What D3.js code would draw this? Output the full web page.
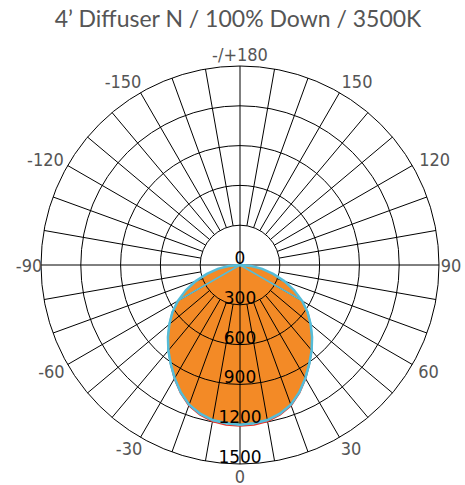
<!DOCTYPE html>
<html>
<head>
<meta charset="utf-8">
<script src="https://cdn.jsdelivr.net/npm/d3@7"></script>
<style>
  body { margin: 0; background: #fff; }
  .grid { stroke: #000; stroke-width: 1; fill: none; }
  .ring-label { font-family: "DejaVu Sans", sans-serif; font-size: 17px; fill: #000; }
  .angle-label { font-family: "Liberation Sans Narrow", "DejaVu Sans Condensed", sans-serif; font-size: 18px; fill: #555; }
  .title { font-family: Lato, "Open Sans", sans-serif; font-size: 23px; fill: #555; }
</style>
</head>
<body>
<div id="vis"></div>
<script>
const WIDTH = 465;
const HEIGHT = 485;
const CENTER = { x: 240, y: 265 };
const OUTER_R = 199;

const TITLE = "4\u2019 Diffuser N / 100% Down / 3500K";

// candela rings and angle labels
const RING_VALUES = [300, 600, 900, 1200, 1500];
const RING_LABELS = [0, 300, 600, 900, 1200, 1500];
const ANGLE_LABELS = [180, 150, 120, 90, 60, 30, 0, -30, -60, -90, -120, -150];

// gamma angles (0 = straight down)
const ANGLES = [-90, -85, -80, -75, -70, -65, -60, -55, -50, -45, -40, -35, -30, -25, -20, -15, -10, -5,
  0, 5, 10, 15, 20, 25, 30, 35, 40, 45, 50, 55, 60, 65, 70, 75, 80, 85, 90];

// C0 plane (orange)
const C0_VALUES = [0, 85, 170, 258, 355, 450, 540, 622, 695, 768, 840, 910, 985, 1058, 1120, 1160, 1187, 1197,
  1205, 1197, 1187, 1160, 1120, 1058, 985, 910, 840, 768, 695, 622, 540, 450, 355, 258, 170, 85, 0];

// C90 plane (cyan), coarse at the ends
const C90_ANGLES = [-90, -60, -55, -50, -45, -40, -35, -30, -25, -20, -15, -10, -5,
  0, 5, 10, 15, 20, 25, 30, 35, 40, 45, 50, 55, 60, 90];
const C90_VALUES = [0, 545, 625, 697, 770, 842, 912, 986, 1058, 1121, 1162, 1188, 1198,
  1204, 1198, 1188, 1162, 1121, 1058, 986, 912, 842, 770, 697, 625, 545, 0];

// C45 plane (red), barely visible under the others
const C45_ANGLES = [-45, -40, -35, -30, -25, -20, -15, -10, -5, 0, 5, 10, 15, 20, 25, 30, 35, 40, 45];
const C45_VALUES = [766, 840, 912, 990, 1064, 1128, 1170, 1198, 1210,
  1214, 1210, 1198, 1170, 1128, 1064, 990, 912, 840, 766];

const svg = d3.select("#vis")
  .append("svg")
  .attr("width", WIDTH)
  .attr("height", HEIGHT);

const R_SCALE = d3.scaleLinear().domain([0, 1500]).range([0, OUTER_R]);
const toRad = (a) => a * Math.PI / 180;

const g = svg.append("g")
  .attr("transform", "translate(" + CENTER.x + "," + CENTER.y + ")");

const radial = d3.lineRadial()
  .angle((d) => Math.PI - toRad(d.a))
  .radius((d) => R_SCALE(d.v));

const c0 = ANGLES.map((a, i) => ({ a: a, v: C0_VALUES[i] }));
const c90 = C90_ANGLES.map((a, i) => ({ a: a, v: C90_VALUES[i] }));
const c45 = C45_ANGLES.map((a, i) => ({ a: a, v: C45_VALUES[i] }));

// filled distribution goes under the grid
g.append("path")
  .datum(c0)
  .attr("d", radial)
  .attr("fill", "#f38a26")
  .attr("stroke", "none");

// grid: rings
g.selectAll(".ring")
  .data(RING_VALUES)
  .enter()
  .append("circle")
  .attr("class", "grid")
  .attr("r", (d) => R_SCALE(d));

// grid: spokes every 10 degrees, from first ring out
const spokes = d3.range(-170, 190, 10);
g.selectAll(".spoke")
  .data(spokes)
  .enter()
  .append("line")
  .attr("class", "grid")
  .attr("x1", (d) => (d % 90 === 0 ? 0 : R_SCALE(300)) * Math.sin(toRad(d)))
  .attr("y1", (d) => (d % 90 === 0 ? 0 : R_SCALE(300)) * Math.cos(toRad(d)))
  .attr("x2", (d) => R_SCALE(1500) * Math.sin(toRad(d)))
  .attr("y2", (d) => R_SCALE(1500) * Math.cos(toRad(d)));

// plane outlines
g.append("path")
  .datum(c45)
  .attr("d", radial)
  .attr("fill", "none")
  .attr("stroke", "#e8372c")
  .attr("stroke-width", 1.5);

g.append("path")
  .datum(c0)
  .attr("d", radial)
  .attr("fill", "none")
  .attr("stroke", "#55bcd8")
  .attr("stroke-width", 2.5);

g.append("path")
  .datum(c90)
  .attr("d", radial)
  .attr("fill", "none")
  .attr("stroke", "#55bcd8")
  .attr("stroke-width", 1.5);

// ring labels sit on the ring line along the 0 axis
g.selectAll(".ring-label")
  .data(RING_LABELS)
  .enter()
  .append("text")
  .attr("class", "ring-label")
  .attr("text-anchor", "middle")
  .attr("x", 0)
  .attr("y", (d) => R_SCALE(d) - 1)
  .text((d) => d);

// angle labels round the outside
function labelPos(a) {
  const r = a % 90 === 0 ? 211 : 212;
  let x = r * Math.sin(toRad(a));
  const y = r * Math.cos(toRad(a));
  if (a % 90 !== 0) {
    x += Math.sign(x) * (Math.abs(a) > 90 ? 11 : 5);
  }
  return [x, y];
}

g.selectAll(".angle-label")
  .data(ANGLE_LABELS)
  .enter()
  .append("text")
  .attr("class", "angle-label")
  .attr("text-anchor", "middle")
  .attr("dominant-baseline", "central")
  .attr("x", (d) => labelPos(d)[0])
  .attr("y", (d) => labelPos(d)[1])
  .text((d) => (d === 180 ? "-/+180" : d));

svg.append("text")
  .attr("class", "title")
  .attr("x", 238)
  .attr("y", 27)
  .attr("text-anchor", "middle")
  .text(TITLE);
</script>
</body>
</html>
